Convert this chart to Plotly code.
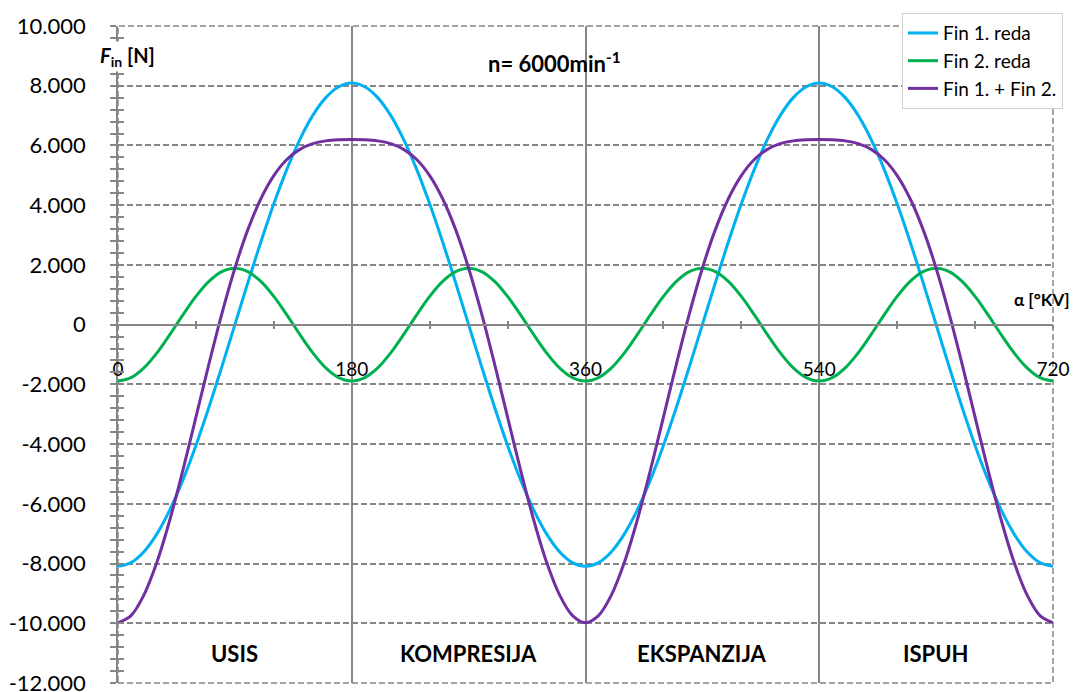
import plotly.graph_objects as go

# ---------------- data ----------------
alpha = [0, 10, 20, 30, 40, 50, 60, 70, 80, 90, 100, 110, 120, 130, 140, 150, 160, 170, 180,
         190, 200, 210, 220, 230, 240, 250, 260, 270, 280, 290, 300, 310, 320, 330, 340, 350, 360,
         370, 380, 390, 400, 410, 420, 430, 440, 450, 460, 470, 480, 490, 500, 510, 520, 530, 540,
         550, 560, 570, 580, 590, 600, 610, 620, 630, 640, 650, 660, 670, 680, 690, 700, 710, 720]

fin1 = [-8090, -7967, -7602, -7006, -6197, -5200, -4045, -2767, -1405, 0,
        1405, 2767, 4045, 5200, 6197, 7006, 7602, 7967, 8090,
        7967, 7602, 7006, 6197, 5200, 4045, 2767, 1405, 0,
        -1405, -2767, -4045, -5200, -6197, -7006, -7602, -7967, -8090,
        -7967, -7602, -7006, -6197, -5200, -4045, -2767, -1405, 0,
        1405, 2767, 4045, 5200, 6197, 7006, 7602, 7967, 8090,
        7967, 7602, 7006, 6197, 5200, 4045, 2767, 1405, 0,
        -1405, -2767, -4045, -5200, -6197, -7006, -7602, -7967, -8090]

fin2 = [-1890, -1776, -1448, -945, -328, 328, 945, 1448, 1776, 1890,
        1776, 1448, 945, 328, -328, -945, -1448, -1776, -1890,
        -1776, -1448, -945, -328, 328, 945, 1448, 1776, 1890,
        1776, 1448, 945, 328, -328, -945, -1448, -1776, -1890,
        -1776, -1448, -945, -328, 328, 945, 1448, 1776, 1890,
        1776, 1448, 945, 328, -328, -945, -1448, -1776, -1890,
        -1776, -1448, -945, -328, 328, 945, 1448, 1776, 1890,
        1776, 1448, 945, 328, -328, -945, -1448, -1776, -1890]

fin_sum = [-9980, -9743, -9050, -7951, -6525, -4872, -3100, -1319, 371, 1890,
           3181, 4215, 4990, 5528, 5869, 6061, 6154, 6191, 6200,
           6191, 6154, 6061, 5869, 5528, 4990, 4215, 3181, 1890,
           371, -1319, -3100, -4872, -6525, -7951, -9050, -9743, -9980,
           -9743, -9050, -7951, -6525, -4872, -3100, -1319, 371, 1890,
           3181, 4215, 4990, 5528, 5869, 6061, 6154, 6191, 6200,
           6191, 6154, 6061, 5869, 5528, 4990, 4215, 3181, 1890,
           371, -1319, -3100, -4872, -6525, -7951, -9050, -9743, -9980]

series_names = ["Fin 1. reda", "Fin 2. reda", "Fin 1. + Fin 2."]
series_colors = ["#00B0F0", "#00B050", "#7030A0"]

y_tickvals = [10000, 8000, 6000, 4000, 2000, 0, -2000, -4000, -6000, -8000, -10000, -12000]
y_ticktext = ["10.000", "8.000", "6.000", "4.000", "2.000", "0", "-2.000", "-4.000",
              "-6.000", "-8.000", "-10.000", "-12.000"]
x_tickvals = [0, 180, 360, 540, 720]
x_ticktext = ["0", "180", "360", "540", "720"]
x_gridvals = [180, 360, 540]

phase_names = ["USIS", "KOMPRESIJA", "EKSPANZIJA", "ISPUH"]
phase_centers = [90, 270, 450, 630]

# ---------------- style ----------------
FONT = "Lato, Carlito, Calibri, 'Open Sans', sans-serif"
AX = "#868686"
X_RANGE = [0, 720]
Y_RANGE = [-12000, 10000]
zero_pos = (0 - Y_RANGE[0]) / (Y_RANGE[1] - Y_RANGE[0])

fig = go.Figure()

for vals, name, col in zip([fin1, fin2, fin_sum], series_names, series_colors):
    fig.add_trace(go.Scatter(x=alpha, y=vals, name=name, mode="lines",
                             line=dict(color=col, width=3, shape="spline", smoothing=1.0),
                             hoverinfo="skip"))

# helper (empty) traces so the overlay axes get their subplots
for xa, ya in [("x2", "y"), ("x3", "y"), ("x", "y2")]:
    fig.add_trace(go.Scatter(x=[], y=[], xaxis=xa, yaxis=ya, showlegend=False,
                             hoverinfo="skip"))

fig.update_layout(
    width=1079, height=692,
    margin=dict(l=118, r=26, t=26, b=9, autoexpand=False),
    paper_bgcolor="white", plot_bgcolor="white",
    font=dict(family=FONT, color="black"),
    showlegend=True,
    legend=dict(x=1.0107, y=1.0196, xanchor="right", yanchor="top",
                bgcolor="white", bordercolor="#d0d0d0", borderwidth=1,
                font=dict(family=FONT, size=19, color="black"),
                tracegroupgap=0),
    xaxis=dict(range=X_RANGE, anchor="free", position=zero_pos, automargin=False,
               showline=True, linecolor=AX, linewidth=1.5,
               tickmode="array", tickvals=x_tickvals, ticktext=x_ticktext,
               ticks="outside", ticklen=4, tickwidth=1.5, tickcolor=AX,
               minor=dict(tickmode="linear", tick0=0, dtick=60, ticks="outside",
                          ticklen=4, tickwidth=1.5, tickcolor=AX, showgrid=False),
               showgrid=False, zeroline=False,
               ticklabelstandoff=24, ticklabeloverflow="allow",
               tickfont=dict(family=FONT, size=19, color="black")),
    xaxis2=dict(range=X_RANGE, overlaying="x", anchor="free", position=zero_pos,
                automargin=False,
                showline=False, tickmode="linear", tick0=0, dtick=60,
                ticks="inside", ticklen=4, tickwidth=1.5, tickcolor=AX,
                showticklabels=False, showgrid=False, zeroline=False),
    xaxis3=dict(range=X_RANGE, overlaying="x", anchor="y", automargin=False,
                showline=False, tickmode="array", tickvals=x_gridvals,
                ticks="", showticklabels=False,
                showgrid=True, gridcolor=AX, gridwidth=1.5, zeroline=False),
    yaxis=dict(range=Y_RANGE, anchor="x", automargin=False,
               showline=True, linecolor=AX, linewidth=1.5,
               tickmode="array", tickvals=y_tickvals, ticktext=y_ticktext,
               ticks="outside", ticklen=6, tickwidth=1.5, tickcolor=AX,
               minor=dict(tickmode="linear", tick0=0, dtick=400, ticks="outside",
                          ticklen=6, tickwidth=1.5, tickcolor=AX, showgrid=False),
               showgrid=True, gridcolor=AX, gridwidth=1.5, griddash="6px,3px",
               zeroline=False,
               ticklabelstandoff=20, ticklabeloverflow="allow",
               tickfont=dict(family=FONT, size=22, color="black")),
    yaxis2=dict(range=Y_RANGE, overlaying="y", anchor="x", automargin=False,
                showline=False, tickmode="linear", tick0=0, dtick=400,
                ticks="inside", ticklen=6, tickwidth=1.5, tickcolor=AX,
                showticklabels=False, showgrid=False, zeroline=False),
)

# dashed plot-area border (right edge)
fig.add_shape(type="rect", xref="paper", yref="paper", x0=0, x1=1, y0=0, y1=1,
              line=dict(color=AX, width=1.5, dash="6px,3px"), layer="below")

# texts
fig.add_annotation(xref="paper", yref="paper", x=0.010, y=0.954,
                   text="<b><i>F</i><sub>in</sub> [N]</b>", showarrow=False,
                   font=dict(family=FONT, size=20, color="black"),
                   bgcolor="white", xanchor="center", yanchor="middle")
fig.add_annotation(xref="paper", yref="paper", x=0.467, y=0.944,
                   text="<b>n= 6000min<sup>-1</sup></b>", showarrow=False,
                   font=dict(family=FONT, size=22, color="black"),
                   xanchor="center", yanchor="middle")
fig.add_annotation(xref="paper", yref="paper", x=1.0203, y=0.583,
                   text="<b>α [°KV]</b>", showarrow=False,
                   font=dict(family=FONT, size=17, color="black"),
                   xanchor="right", yanchor="middle")
for name, cx in zip(phase_names, phase_centers):
    fig.add_annotation(x=cx, y=-11000, xref="x", yref="y", text="<b>" + name + "</b>",
                       showarrow=False, font=dict(family=FONT, size=22, color="black"),
                       xanchor="center", yanchor="middle")

fig.write_html("out.html", config={"displayModeBar": False},
               post_script="document.body.style.margin='0';document.body.style.padding='0';")
